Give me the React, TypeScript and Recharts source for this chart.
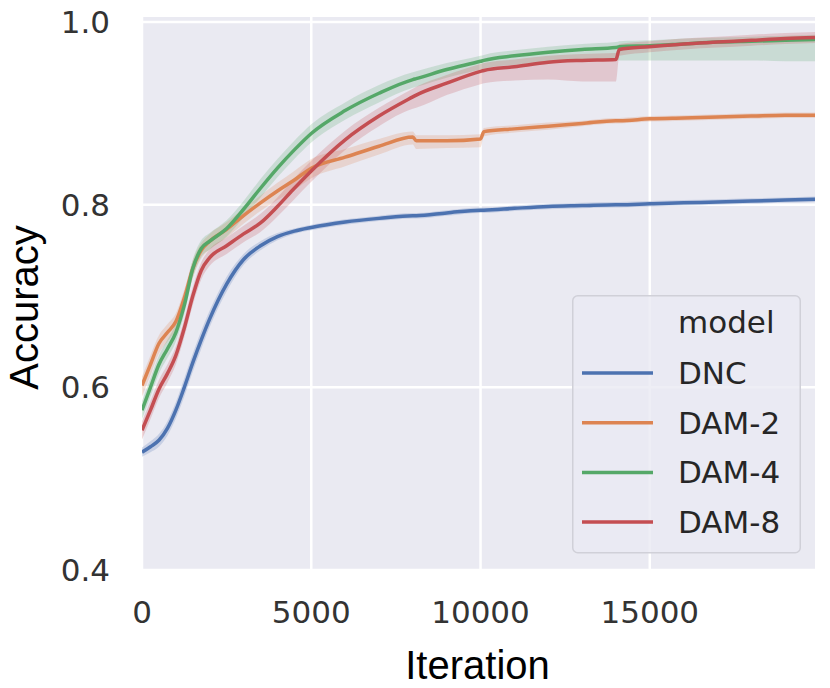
import React from 'react';
import { ComposedChart, Line, Area, XAxis, YAxis, CartesianGrid, Legend } from 'recharts';

// ---- data ----
const iterations = [0, 250, 500, 750, 1000, 1250, 1500, 1750, 2000, 2500, 3000, 3500, 4000, 4500, 5000, 6000, 7000, 8000, 8100, 9000, 10000, 10100, 11000, 12000, 13000, 14000, 14100, 15000, 16000, 17000, 18000, 19000, 19880];

const dncMean = [0.529, 0.535, 0.542, 0.555, 0.575, 0.600, 0.627, 0.652, 0.675, 0.713, 0.740, 0.755, 0.765, 0.771, 0.775, 0.781, 0.785, 0.788, 0.788, 0.791, 0.794, 0.794, 0.796, 0.798, 0.799, 0.800, 0.800, 0.801, 0.802, 0.803, 0.804, 0.805, 0.806];
const dncLow = [0.524, 0.529, 0.535, 0.547, 0.566, 0.590, 0.617, 0.642, 0.666, 0.705, 0.734, 0.750, 0.761, 0.768, 0.772, 0.778, 0.782, 0.785, 0.785, 0.788, 0.791, 0.791, 0.793, 0.795, 0.796, 0.797, 0.797, 0.798, 0.799, 0.800, 0.801, 0.802, 0.803];
const dncHigh = [0.534, 0.541, 0.549, 0.563, 0.584, 0.610, 0.637, 0.662, 0.684, 0.721, 0.746, 0.760, 0.769, 0.774, 0.778, 0.784, 0.788, 0.791, 0.791, 0.794, 0.797, 0.797, 0.799, 0.801, 0.802, 0.803, 0.803, 0.804, 0.805, 0.806, 0.807, 0.808, 0.809];

const dam2Mean = [0.602, 0.625, 0.648, 0.660, 0.672, 0.698, 0.730, 0.750, 0.760, 0.773, 0.788, 0.802, 0.815, 0.827, 0.840, 0.852, 0.864, 0.874, 0.870, 0.870, 0.872, 0.880, 0.883, 0.886, 0.889, 0.892, 0.892, 0.894, 0.895, 0.896, 0.897, 0.898, 0.898];
const dam2Low = [0.590, 0.613, 0.637, 0.650, 0.663, 0.688, 0.720, 0.741, 0.751, 0.764, 0.779, 0.793, 0.805, 0.816, 0.829, 0.842, 0.855, 0.866, 0.861, 0.862, 0.863, 0.875, 0.879, 0.882, 0.886, 0.889, 0.889, 0.891, 0.892, 0.893, 0.894, 0.895, 0.895];
const dam2High = [0.612, 0.635, 0.657, 0.669, 0.681, 0.707, 0.739, 0.758, 0.768, 0.781, 0.796, 0.810, 0.824, 0.837, 0.850, 0.861, 0.872, 0.880, 0.876, 0.876, 0.877, 0.884, 0.887, 0.890, 0.892, 0.895, 0.895, 0.897, 0.898, 0.899, 0.900, 0.901, 0.901];

const dam4Mean = [0.575, 0.600, 0.625, 0.642, 0.660, 0.690, 0.730, 0.752, 0.760, 0.774, 0.795, 0.818, 0.840, 0.860, 0.878, 0.903, 0.922, 0.937, 0.938, 0.948, 0.957, 0.958, 0.963, 0.967, 0.970, 0.972, 0.973, 0.974, 0.976, 0.978, 0.979, 0.980, 0.981];
const dam4Low = [0.565, 0.590, 0.615, 0.632, 0.650, 0.680, 0.720, 0.743, 0.751, 0.765, 0.786, 0.808, 0.830, 0.850, 0.868, 0.893, 0.912, 0.928, 0.929, 0.939, 0.948, 0.949, 0.953, 0.956, 0.958, 0.958, 0.958, 0.958, 0.958, 0.958, 0.958, 0.957, 0.957];
const dam4High = [0.585, 0.610, 0.635, 0.652, 0.670, 0.700, 0.740, 0.761, 0.769, 0.783, 0.804, 0.828, 0.850, 0.870, 0.888, 0.912, 0.931, 0.945, 0.946, 0.955, 0.963, 0.964, 0.969, 0.973, 0.976, 0.978, 0.979, 0.980, 0.982, 0.983, 0.984, 0.985, 0.986];

const dam8Mean = [0.553, 0.575, 0.598, 0.615, 0.635, 0.665, 0.700, 0.728, 0.742, 0.755, 0.768, 0.780, 0.798, 0.818, 0.837, 0.871, 0.897, 0.918, 0.920, 0.933, 0.946, 0.947, 0.951, 0.956, 0.958, 0.959, 0.970, 0.973, 0.976, 0.978, 0.980, 0.982, 0.983];
const dam8Low = [0.543, 0.565, 0.588, 0.605, 0.625, 0.655, 0.690, 0.718, 0.733, 0.746, 0.759, 0.770, 0.787, 0.806, 0.825, 0.860, 0.886, 0.905, 0.906, 0.920, 0.932, 0.933, 0.936, 0.937, 0.935, 0.935, 0.963, 0.967, 0.970, 0.972, 0.974, 0.976, 0.977];
const dam8High = [0.563, 0.585, 0.608, 0.625, 0.645, 0.675, 0.710, 0.737, 0.751, 0.764, 0.777, 0.790, 0.808, 0.829, 0.848, 0.881, 0.906, 0.927, 0.929, 0.942, 0.954, 0.955, 0.959, 0.963, 0.965, 0.966, 0.976, 0.979, 0.982, 0.984, 0.986, 0.988, 0.989];

const xTicks = [0, 5000, 10000, 15000];
const yTicks = [0.4, 0.6, 0.8, 1.0];
const legendTitle = 'model';
const xLabel = 'Iteration';
const yLabel = 'Accuracy';

const seriesList = [
  { key: 'dnc', name: 'DNC', color: '#4C72B0', mean: dncMean, low: dncLow, high: dncHigh },
  { key: 'dam2', name: 'DAM-2', color: '#DD8452', mean: dam2Mean, low: dam2Low, high: dam2High },
  { key: 'dam4', name: 'DAM-4', color: '#55A868', mean: dam4Mean, low: dam4Low, high: dam4High },
  { key: 'dam8', name: 'DAM-8', color: '#C44E52', mean: dam8Mean, low: dam8Low, high: dam8High },
];

const data = iterations.map((x, i) => {
  const row: Record<string, any> = { x };
  seriesList.forEach((s) => {
    row[s.key] = s.mean[i];
    row[s.key + 'Band'] = [s.low[i], s.high[i]];
  });
  return row;
});

const W = 830;
const H = 688;
const tickStyle = { fontFamily: '"DejaVu Sans", sans-serif', fontSize: 31, fill: '#333333' };
const titleFont = '"Liberation Sans", Arial, sans-serif';

const renderLegend = () => (
  <svg width={229} height={259} style={{ display: 'block' }}>
    <rect x={0.75} y={0.75} width={227.5} height={257} rx={5} ry={5} fill="#EAEAF2" fillOpacity={0.8} stroke="#d0d0d8" strokeWidth={1.5} />
    <text x={106} y={38} fontFamily='"DejaVu Sans", sans-serif' fontSize={31} fill="#262626">{legendTitle}</text>
    {seriesList.map((s, i) => {
      const cy = 78 + i * 49.7;
      return (
        <g key={s.key}>
          <line x1={10} x2={81} y1={cy} y2={cy} stroke={s.color} strokeWidth={3.5} />
          <text x={106} y={cy + 11} fontFamily='"DejaVu Sans", sans-serif' fontSize={31} fill="#262626">{s.name}</text>
        </g>
      );
    })}
  </svg>
);

const XTitle = () => (
  <text x={477.5} y={679} textAnchor="middle" fontFamily={titleFont} fontSize={40} fill="#000000">{xLabel}</text>
);
const YTitle = () => (
  <text transform="translate(37.5,307.5) rotate(-90)" textAnchor="middle" fontFamily={titleFont} fontSize={40} fill="#000000">{yLabel}</text>
);

export default function App() {
  return (
    <div style={{ position: 'absolute', left: 0, top: 0, width: W, height: H, background: '#ffffff' }}>
      <ComposedChart width={W} height={H} data={data} margin={{ top: 17, right: 15, bottom: 0, left: 0 }}>
        <CartesianGrid fill="#EAEAF2" fillOpacity={1} stroke="#ffffff" strokeWidth={2.5} horizontalValues={yTicks} verticalValues={xTicks} />
        <XAxis
          type="number"
          dataKey="x"
          domain={[0, 19880]}
          ticks={xTicks}
          allowDataOverflow
          axisLine={false}
          tickLine={false}
          tickSize={0}
          tickMargin={31}
          height={118}
          tick={tickStyle}
          interval={0}
          label={{ content: XTitle }}
        />
        <YAxis
          type="number"
          domain={[0.4, 1.0055]}
          ticks={yTicks}
          allowDataOverflow
          axisLine={false}
          tickLine={false}
          tickSize={0}
          tickMargin={32}
          width={142}
          tick={tickStyle}
          interval={0}
          tickFormatter={(v: number) => v.toFixed(1)}
          label={{ content: YTitle }}
        />
        {seriesList.flatMap((s) => [
          <Area
            key={s.key + 'Band'}
            dataKey={s.key + 'Band'}
            type="monotone"
            stroke="none"
            fill={s.color}
            fillOpacity={0.22}
            isAnimationActive={false}
            legendType="none"
            dot={false}
            activeDot={false}
          />,
          <Line
            key={s.key}
            dataKey={s.key}
            name={s.name}
            type="monotone"
            stroke={s.color}
            strokeWidth={3.5}
            dot={false}
            activeDot={false}
            isAnimationActive={false}
          />,
        ])}
        <Legend
          layout="vertical"
          verticalAlign="middle"
          align="center"
          content={renderLegend}
          wrapperStyle={{ position: 'absolute', left: 572, top: 295, width: 229, height: 259, margin: 0, padding: 0 }}
        />
      </ComposedChart>
    </div>
  );
}
